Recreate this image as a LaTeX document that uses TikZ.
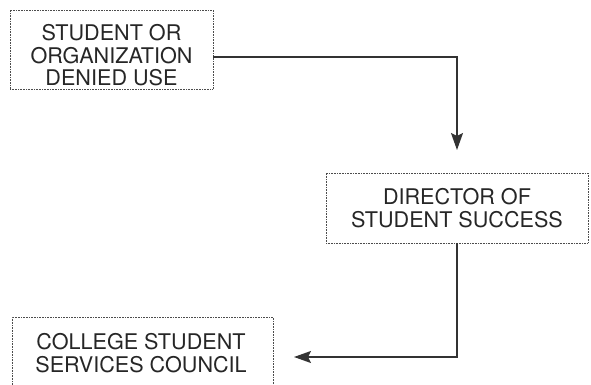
\documentclass[tikz,border=0pt]{standalone}
\usepackage{fontspec}
\setmainfont{TeX Gyre Heros}
\usetikzlibrary{arrows.meta,calc}

\begin{document}
\begin{tikzpicture}[
  x=1pt, y=-1pt,
  box/.style={draw=black!70, densely dotted, line width=0.6pt, inner sep=0pt, outer sep=0pt},
  label/.style={font=\fontsize{21.6}{22.5}\selectfont, align=center, text=black!85},
  arr/.style={-{Stealth[length=17pt, width=12pt, inset=3pt]}, line width=1.4pt, draw=black!80},
]
\useasboundingbox (0,0) rectangle (591,385);

% --- who was denied ---
\node[box, minimum width=203pt, minimum height=79pt] (src) at (111.5,49.5) {};
\node[label] at (111.5,55.5) {STUDENT OR\\ORGANIZATION\\DENIED USE};

% --- director ---
\node[box, minimum width=262pt, minimum height=70pt] (dir) at (457,208) {};
\node[label] at (dir) {DIRECTOR OF\\STUDENT SUCCESS};

% --- council (bottom edge runs off the page) ---
\node[box, minimum width=261pt, minimum height=70pt] (csc) at (142.5,352) {};
\node[label] at (141,353) {COLLEGE STUDENT\\SERVICES COUNCIL};

% arrow ends stop short of the boxes
\coordinate (in2) at ($(dir.north)+(0,-23)$);
\coordinate (in3) at ($(csc.east)+(21,5)$);

\draw[arr] ([yshift=-7.5pt]src.east) -| (in2);
\draw[arr] (dir.south) |- (in3);
\end{tikzpicture}
\end{document}
